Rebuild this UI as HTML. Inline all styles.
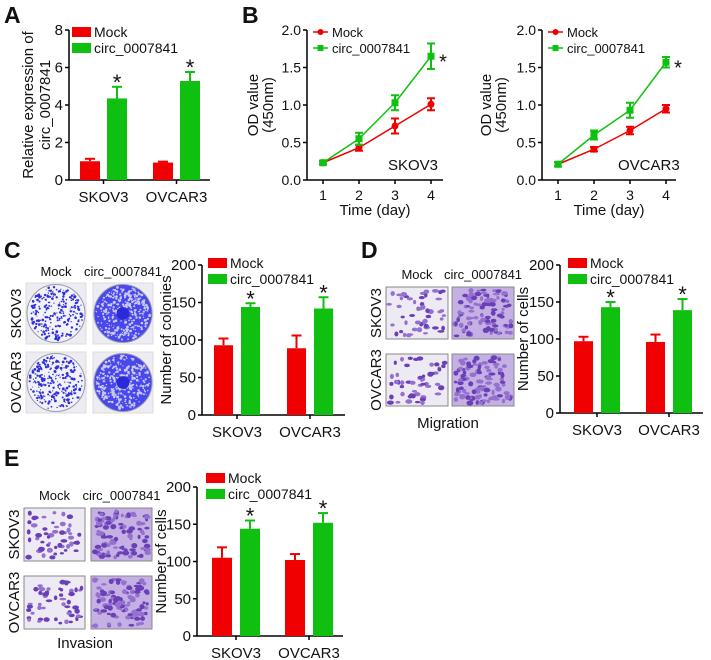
<!DOCTYPE html>
<html><head><meta charset="utf-8"><style>
html,body{margin:0;padding:0;background:#fff}
svg{display:block;font-family:"Liberation Sans",Arial,sans-serif}
</style></head><body>
<svg id="fig" width="711" height="660" viewBox="0 0 711 660" xmlns="http://www.w3.org/2000/svg">
<g id="root"></g>
</svg>
<script>
// ---- data ----
const barGroups = ["SKOV3", "OVCAR3"];
const aMock = [1.0, 0.93];
const aMockErr = [0.13, 0.05];
const aCirc = [4.35, 5.28];
const aCircErr = [0.62, 0.48];
const aTicks = [0, 2, 4, 6, 8];

const days = [1, 2, 3, 4];
const bSkovMock = [0.23, 0.43, 0.72, 1.01];
const bSkovMockErr = [0.02, 0.04, 0.1, 0.08];
const bSkovCirc = [0.23, 0.55, 1.03, 1.65];
const bSkovCircErr = [0.02, 0.08, 0.1, 0.17];
const bOvMock = [0.21, 0.41, 0.66, 0.95];
const bOvMockErr = [0.03, 0.03, 0.05, 0.05];
const bOvCirc = [0.21, 0.6, 0.93, 1.57];
const bOvCircErr = [0.03, 0.06, 0.1, 0.07];
const bTicks = [0.0, 0.5, 1.0, 1.5, 2.0];

const cMock = [93, 89];
const cMockErr = [9, 17];
const cCirc = [144, 142];
const cCircErr = [5, 15];
const dMock = [97, 96];
const dMockErr = [6, 10];
const dCirc = [143, 139];
const dCircErr = [7, 15];
const eMock = [105, 102];
const eMockErr = [14, 8];
const eCirc = [144, 152];
const eCircErr = [11, 13];
const countTicks = [0, 50, 100, 150, 200];

const RED = "#f00000", GREEN = "#10c010";
const NS = "http://www.w3.org/2000/svg";
const root = document.getElementById("root");
function mk(tag, attrs, parent, name) {
  const el = document.createElementNS(NS, tag);
  for (const k in attrs) el.setAttribute(k, attrs[k]);
  
  
  (parent || root).appendChild(el);
  return el;
}
function txt(s, x, y, size, parent, name, extra) {
  const t = mk("text", Object.assign({x: x, y: y, "font-size": size, fill: "#111"}, extra || {}), parent, name);
  t.textContent = s;
  return t;
}
function g(name) { return mk("g", {}, root, name); }

function legend(parent, x, y, kind) {
  const items = [["Mock", RED], ["circ_0007841", GREEN]];
  items.forEach((it, i) => {
    const yy = y + i * 16;
    if (kind === "rect") {
      mk("rect", {x: x, y: yy - 5, width: 19, height: 10, fill: it[1]}, parent, "legend-swatch-" + it[0].toLowerCase());
      txt(it[0], x + 22, yy + 5, 14, parent, "legend-label-" + i);
    } else {
      mk("line", {x1: x, y1: yy, x2: x + 15, y2: yy, stroke: it[1], "stroke-width": 1.5}, parent, "legend-line-" + i);
      if (i === 0) mk("circle", {cx: x + 7.5, cy: yy, r: 3, fill: it[1]}, parent, "legend-marker-" + i);
      else mk("rect", {x: x + 4.5, y: yy - 3, width: 6, height: 6, fill: it[1]}, parent, "legend-marker-" + i);
      txt(it[0], x + 19, yy + 5, 13, parent, "legend-label-" + i);
    }
  });
}

function barChart(opt) {
  const G = g(opt.name);
  const yS = v => opt.y0 - v / opt.max * (opt.y0 - opt.yTop);
  mk("line", {x1: opt.ax, y1: opt.yTop, x2: opt.ax, y2: opt.y0, stroke: "#000", "stroke-width": 1.5}, G, "y-axis");
  mk("line", {x1: opt.ax, y1: opt.y0, x2: opt.axEnd, y2: opt.y0, stroke: "#000", "stroke-width": 1.5}, G, "x-axis");
  opt.ticks.forEach(t => {
    mk("line", {x1: opt.ax - 4, y1: yS(t), x2: opt.ax, y2: yS(t), stroke: "#000", "stroke-width": 1.5}, G, "y-tick");
    txt(String(t), opt.ax - 6, yS(t) + 5, 15, G, "y-tick-label", {"text-anchor": "end"});
  });
  barGroups.forEach((cat, i) => {
    const base = opt.firstX + i * opt.groupStep;
    const series = [[opt.mock[i], opt.mockErr[i], RED, 0], [opt.circ[i], opt.circErr[i], GREEN, 1]];
    series.forEach(s => {
      const x = base + s[3] * opt.barStep;
      const cx = x + opt.bw / 2;
      mk("line", {x1: cx, y1: yS(s[0]), x2: cx, y2: yS(s[0] + s[1]), stroke: s[2], "stroke-width": 2}, G, "error-bar");
      mk("line", {x1: cx - 5, y1: yS(s[0] + s[1]), x2: cx + 5, y2: yS(s[0] + s[1]), stroke: s[2], "stroke-width": 2}, G, "error-cap");
      mk("rect", {x: x, y: yS(s[0]), width: opt.bw, height: yS(0) - yS(s[0]), fill: s[2]}, G, "bar-" + cat.toLowerCase() + (s[3] ? "-circ" : "-mock"));
      if (s[3]) txt("*", cx, yS(s[0] + s[1]) + 3, 22, G, "significance-star", {"text-anchor": "middle"});
    });
    const mid = base + (opt.barStep + opt.bw) / 2;
    mk("line", {x1: mid, y1: opt.y0, x2: mid, y2: opt.y0 + 4, stroke: "#000", "stroke-width": 1.5}, G, "x-tick");
    txt(cat, mid, opt.y0 + 22, 15, G, "x-tick-label", {"text-anchor": "middle"});
  });
  const ly = (opt.yTop + opt.y0) / 2;
  opt.title.forEach((line, j) => {
    txt(line, 0, 0, 15, G, "y-axis-title", {"text-anchor": "middle", transform: `translate(${opt.titleX + j * 17},${ly}) rotate(-90)`});
  });
  legend(G, opt.legX, opt.legY, "rect");
}

function lineChart(opt) {
  const G = g(opt.name);
  const yS = v => opt.y0 - v / 2.0 * (opt.y0 - opt.yTop);
  const xS = d => opt.x1 + (d - 1) * opt.dx;
  mk("line", {x1: opt.ax, y1: opt.yTop, x2: opt.ax, y2: opt.y0, stroke: "#000", "stroke-width": 1.5}, G, "y-axis");
  mk("line", {x1: opt.ax, y1: opt.y0, x2: opt.axEnd, y2: opt.y0, stroke: "#000", "stroke-width": 1.5}, G, "x-axis");
  bTicks.forEach(t => {
    mk("line", {x1: opt.ax - 4, y1: yS(t), x2: opt.ax, y2: yS(t), stroke: "#000", "stroke-width": 1.5}, G, "y-tick");
    txt(t.toFixed(1), opt.ax - 6, yS(t) + 5, 14, G, "y-tick-label", {"text-anchor": "end"});
  });
  days.forEach(d => {
    mk("line", {x1: xS(d), y1: opt.y0, x2: xS(d), y2: opt.y0 + 4, stroke: "#000", "stroke-width": 1.5}, G, "x-tick");
    txt(String(d), xS(d), opt.y0 + 20, 14, G, "x-tick-label", {"text-anchor": "middle"});
  });
  txt("Time (day)", (opt.ax + opt.axEnd) / 2, opt.y0 + 35, 15, G, "x-axis-title", {"text-anchor": "middle"});
  ["OD value", "(450nm)"].forEach((l, j) => {
    txt(l, 0, 0, 15, G, "y-axis-title", {"text-anchor": "middle", transform: `translate(${opt.titleX + j * 15},${(opt.yTop + opt.y0) / 2}) rotate(-90)`});
  });
  const series = [[opt.mock, opt.mockErr, RED], [opt.circ, opt.circErr, GREEN]];
  series.forEach((s, si) => {
    const pts = days.map((d, i) => xS(d) + "," + yS(s[0][i])).join(" ");
    mk("polyline", {points: pts, fill: "none", stroke: s[2], "stroke-width": 1.5}, G, si ? "line-circ" : "line-mock");
    days.forEach((d, i) => {
      const x = xS(d), y = s[0][i], e = s[1][i];
      mk("line", {x1: x, y1: yS(y - e), x2: x, y2: yS(y + e), stroke: s[2], "stroke-width": 2}, G, "error-bar");
      mk("line", {x1: x - 4, y1: yS(y + e), x2: x + 4, y2: yS(y + e), stroke: s[2], "stroke-width": 2}, G, "error-cap");
      mk("line", {x1: x - 4, y1: yS(y - e), x2: x + 4, y2: yS(y - e), stroke: s[2], "stroke-width": 2}, G, "error-cap");
      if (si === 0) mk("circle", {cx: x, cy: yS(y), r: 3.5, fill: s[2]}, G, "point-mock");
      else mk("rect", {x: x - 3.5, y: yS(y) - 3.5, width: 7, height: 7, fill: s[2]}, G, "point-circ");
    });
  });
  const last = days.length - 1;
  txt("*", xS(days[last]) + 12, yS(opt.circ[last]) + 12, 20, G, "significance-star", {"text-anchor": "middle"});
  txt(opt.label, opt.labX, opt.y0 - 10, 15, G, "cell-line-label");
  legend(G, opt.legX, opt.legY, "line");
}

// deterministic decorative texture
let seed = 7;
function rnd() { seed = (seed * 16807) % 2147483647; return seed / 2147483647; }
function dish(parent, x, y, w, h, dense, name) {
  const G = mk("g", {}, parent, name);
  mk("rect", {x: x, y: y, width: w, height: h, fill: "#ececf2", stroke: "#ddd"}, G, "photo-frame");
  const cx = x + w / 2, cy = y + h / 2, r = Math.min(w, h) / 2 - 1;
  mk("circle", {cx: cx, cy: cy, r: r, fill: dense ? "#4848ee" : "#f2f2fa", stroke: "#99a", "stroke-width": 1}, G, "dish");
  const n = dense ? 320 : 260;
  for (let i = 0; i < n; i++) {
    const a = rnd() * 6.283, rr = Math.sqrt(rnd()) * (r - 2);
    const px = cx + Math.cos(a) * rr, py = cy + Math.sin(a) * rr;
    mk("circle", {cx: px.toFixed(1), cy: py.toFixed(1), r: (0.5 + rnd() * 0.9).toFixed(1), fill: dense ? "#c8c8f2" : "#3030d8"}, G, "colony");
  }
  if (dense) mk("circle", {cx: cx, cy: cy, r: r * 0.22, fill: "#2a2ad8"}, G, "dish-center");
}
function micro(parent, x, y, w, h, dense, name) {
  const G = mk("g", {}, parent, name);
  mk("rect", {x: x, y: y, width: w, height: h, fill: dense ? "#c4b0e2" : "#eeeaf3", stroke: "#888"}, G, "photo-frame");
  const n = dense ? 100 : 50;
  for (let i = 0; i < n; i++) {
    const px = x + 3 + rnd() * (w - 6), py = y + 3 + rnd() * (h - 6);
    mk("ellipse", {cx: px.toFixed(1), cy: py.toFixed(1), rx: (1.5 + rnd() * 2).toFixed(1), ry: (1.2 + rnd() * 1.5).toFixed(1), fill: rnd() > 0.5 ? "#6a3fb8" : "#9470cf"}, G, "cell");
  }
}
function photoPanel(name, x1, x2, w, y1, y2, h, kind, bottomLabel, blX, blY, headY) {
  const G = g(name);
  const f = kind === "dish" ? dish : micro;
  f(G, x1, y1, w, h, false, "photo-skov3-mock");
  f(G, x2, y1, w, h, true, "photo-skov3-circ");
  f(G, x1, y2, w, h, false, "photo-ovcar3-mock");
  f(G, x2, y2, w, h, true, "photo-ovcar3-circ");
  txt("Mock", x1 + w / 2, headY, 13, G, "column-label-mock", {"text-anchor": "middle"});
  txt("circ_0007841", x2 + w / 2, headY, 13, G, "column-label-circ", {"text-anchor": "middle"});
  txt("SKOV3", 0, 0, 15, G, "row-label-skov3", {"text-anchor": "middle", transform: `translate(${x1 - 5},${y1 + h / 2}) rotate(-90)`});
  txt("OVCAR3", 0, 0, 15, G, "row-label-ovcar3", {"text-anchor": "middle", transform: `translate(${x1 - 5},${y2 + h / 2}) rotate(-90)`});
  if (bottomLabel) txt(bottomLabel, blX, blY, 15, G, "photo-caption", {"text-anchor": "middle"});
}

[["A", 4, 23], ["B", 242, 23], ["C", 4, 258], ["D", 361, 258], ["E", 4, 466]].forEach(p => {
  txt(p[0], p[1], p[2], 23, root, "panel-label-" + p[0].toLowerCase(), {"font-weight": "bold"});
});

barChart({name: "panel-a-chart", ax: 69, axEnd: 210, y0: 180, yTop: 30, max: 8, ticks: aTicks,
  firstX: 80, groupStep: 73, barStep: 27, bw: 20, mock: aMock, mockErr: aMockErr, circ: aCirc, circErr: aCircErr,
  title: ["Relative expression of", "circ_0007841"], titleX: 33, legX: 72, legY: 32});

lineChart({name: "panel-b-skov3", ax: 307, axEnd: 443, y0: 180, yTop: 30, x1: 323, dx: 36,
  mock: bSkovMock, mockErr: bSkovMockErr, circ: bSkovCirc, circErr: bSkovCircErr, titleX: 258, label: "SKOV3", labX: 388, legX: 313, legY: 32});
lineChart({name: "panel-b-ovcar3", ax: 542, axEnd: 676, y0: 180, yTop: 30, x1: 558, dx: 36,
  mock: bOvMock, mockErr: bOvMockErr, circ: bOvCirc, circErr: bOvCircErr, titleX: 491, label: "OVCAR3", labX: 618, legX: 548, legY: 32});

photoPanel("panel-c-photos", 26, 93, 60, 283, 352, 61, "dish", null, 0, 0, 276);
barChart({name: "panel-c-chart", ax: 202, axEnd: 345, y0: 415, yTop: 265, max: 200, ticks: countTicks,
  firstX: 214, groupStep: 73, barStep: 27, bw: 19, mock: cMock, mockErr: cMockErr, circ: cCirc, circErr: cCircErr,
  title: ["Number of colonies"], titleX: 171, legX: 208, legY: 263});

photoPanel("panel-d-photos", 386, 452, 62, 287, 354, 52, "micro", "Migration", 448, 428, 279);
barChart({name: "panel-d-chart", ax: 560, axEnd: 703, y0: 413, yTop: 265, max: 200, ticks: countTicks,
  firstX: 574, groupStep: 72, barStep: 27, bw: 19, mock: dMock, mockErr: dMockErr, circ: dCirc, circErr: dCircErr,
  title: ["Number of cells"], titleX: 528, legX: 568, legY: 263});

photoPanel("panel-e-photos", 24, 91, 61, 508, 576, 53, "micro", "Invasion", 85, 648, 500);
barChart({name: "panel-e-chart", ax: 197, axEnd: 343, y0: 636, yTop: 487, max: 200, ticks: countTicks,
  firstX: 212, groupStep: 73, barStep: 28, bw: 20, mock: eMock, mockErr: eMockErr, circ: eCirc, circErr: eCircErr,
  title: ["Number of cells"], titleX: 166, legX: 206, legY: 478});
</script>
</body></html>
